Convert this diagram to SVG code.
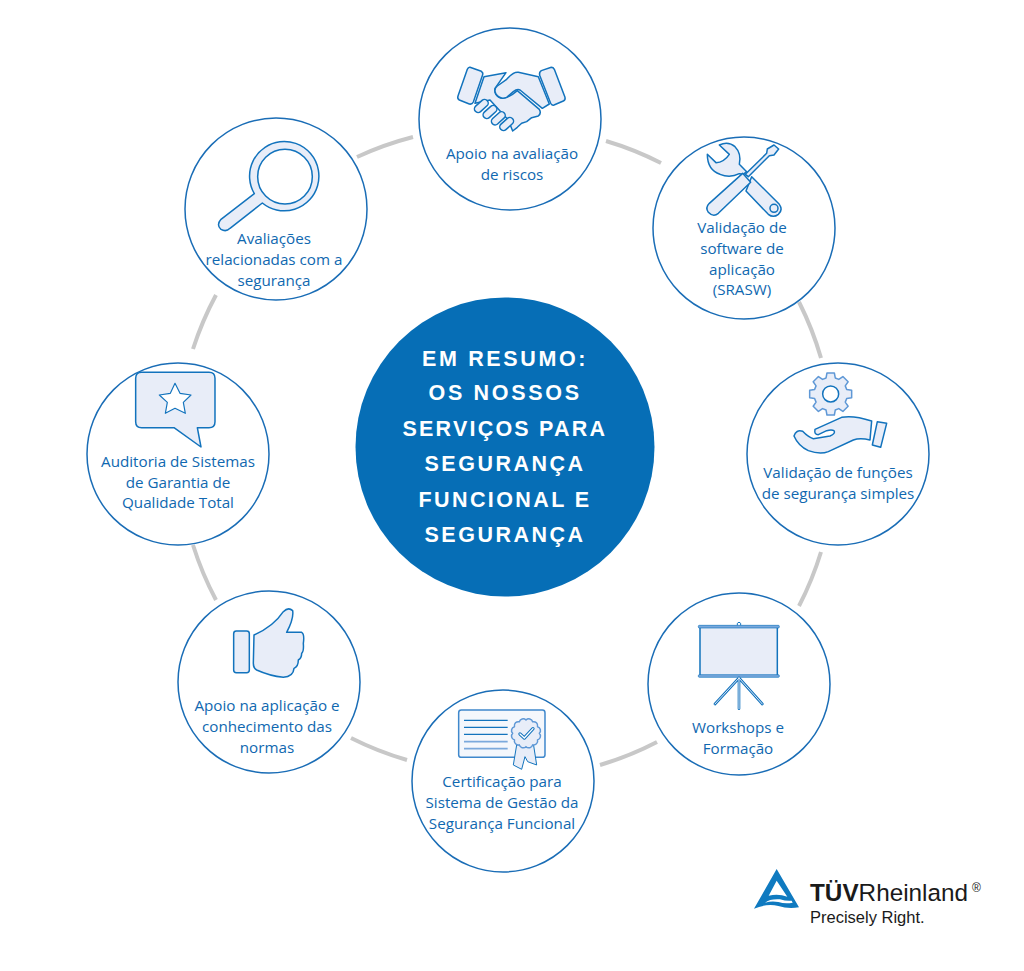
<svg xmlns="http://www.w3.org/2000/svg" width="1024" height="971" viewBox="0 0 1024 971">
<style>
.c{fill:#fff;stroke:#1a6db6;stroke-width:1.5}
.t{font-family:"Open Sans","Liberation Sans",sans-serif;font-size:15.2px;fill:#1068b0;text-anchor:middle}
.h{font-family:"Liberation Sans",Arial,sans-serif;font-weight:700;font-size:21.5px;letter-spacing:2.5px;fill:#fff;text-anchor:middle}
.i{fill:#e8edf8;stroke:#1273bd;stroke-width:4.5;stroke-linejoin:round;stroke-linecap:round}
.l{fill:#e8edf8;stroke:#5f98d6;stroke-width:4.5;stroke-linejoin:round}
.w{fill:#fff}
.a{fill:none;stroke:#c8c8c8;stroke-width:4}
.k{font-family:"Liberation Sans",Arial,sans-serif;fill:#1a1a1a}
</style>
<g id="connectors">
<path class="a" d="M606 141A325 325 0 0 1 661 163"/>
<path class="a" d="M799 302A325 325 0 0 1 821 358"/>
<path class="a" d="M821 552A325 325 0 0 1 799 606"/>
<path class="a" d="M657 742A325 325 0 0 1 600 765"/>
<path class="a" d="M407 760A325 325 0 0 1 351 738"/>
<path class="a" d="M216 600A325 325 0 0 1 193 545"/>
<path class="a" d="M193 349A325 325 0 0 1 216 295"/>
<path class="a" d="M357 157A325 325 0 0 1 413 137"/>
</g>
<g id="center">
<circle cx="505" cy="447" r="149.500" fill="#066eb6"/>
<text class="h" x="505" y="366" textLength="166">EM RESUMO:</text>
<text class="h" x="505" y="400" textLength="153">OS NOSSOS</text>
<text class="h" x="505" y="436" textLength="205">SERVIÇOS PARA</text>
<text class="h" x="505" y="471" textLength="161">SEGURANÇA</text>
<text class="h" x="505" y="507" textLength="173">FUNCIONAL E</text>
<text class="h" x="505" y="542" textLength="161">SEGURANÇA</text>
</g>
<g id="risks">
<circle class="c" cx="510" cy="119" r="91"/>
<g transform="translate(410 20) scale(.3333)">
<path class="i" d="M180 142L214 154Q220 158 218 164L190 246Q186 254 178 252L148 240Q141 236 144 228L172 148Q175 141 180 142Z"/>
<path class="i" d="M394 152L424 142Q430 142 433 148L465 232Q467 240 460 243L432 255Q425 257 422 250L389 166Q387 156 394 152Z"/>
<path class="i" d="M222 170L288 158L255 205Q252 225 270 233Q290 240 322 212L388 268Q395 280 385 288L365 293L350 305L335 310L322 322L308 333L295 300L240 240L195 250Z"/>
<rect class="i" x="190" y="247" width="48" height="22" rx="11" transform="rotate(-42 214 258)"/>
<rect class="i" x="216" y="265" width="48" height="22" rx="11" transform="rotate(-42 240 276)"/>
<rect class="i" x="241" y="284" width="48" height="22" rx="11" transform="rotate(-42 265 295)"/>
<rect class="i" x="266" y="301" width="48" height="22" rx="11" transform="rotate(-42 290 312)"/>
<path class="i" d="M290 178Q310 155 325 157L385 170L418 252L397 265L330 210Q322 205 310 215L290 232Q270 240 258 222Q250 208 262 198Z"/>
</g>
<text class="t" x="512" y="159">Apoio na avaliação</text>
<text class="t" x="512" y="180">de riscos</text>
</g>
<g id="software">
<circle class="c" cx="744" cy="228" r="91"/>
<g transform="translate(650 125) scale(.3333)">
<path class="i" d="M172 88L198 113Q222 112 238 88L208 60Q235 48 255 65Q275 85 268 118L290 140L280 148L268 146Q240 160 210 148Q172 135 172 88Z"/>
<path class="i" d="M305 155L388 238Q400 255 385 268Q370 280 355 268L288 198Z"/>
<circle class="i" cx="372" cy="250" r="12"/>
<path class="i" d="M286 148L350 85L352 72L372 60L386 72L372 90L358 92L295 155Z"/>
<path class="i" d="M278 145L302 172L205 265Q190 278 175 262Q165 248 178 235Z"/>
</g>
<text class="t" x="742" y="233">Validação de</text>
<text class="t" x="742" y="254">software de</text>
<text class="t" x="742" y="275">aplicação</text>
<text class="t" x="742" y="295">(SRASW)</text>
</g>
<g id="simple-functions">
<circle class="c" cx="838" cy="454" r="91"/>
<g transform="translate(770 360) scale(.3333)">
<g transform="translate(182 102)">
<path class="l" d="M48.100-13.800L63-11.100L63 11.100L48.100 13.800L43.800 24.300L52.400 36.700L36.700 52.400L24.300 43.800L13.800 48.100L11.100 63L-11.100 63L-13.800 48.100L-24.300 43.800L-36.700 52.400L-52.400 36.700L-43.800 24.300L-48.100 13.800L-63 11.100L-63-11.100L-48.100-13.800L-43.800-24.300L-52.400-36.700L-36.700-52.400L-24.300-43.800L-13.800-48.100L-11.100-63L11.100-63L13.800-48.100L24.300-43.800L36.700-52.400L52.400-36.700L43.800-24.300Z"/>
<circle class="i" r="24" style="fill:#fff"/>
</g>
<path class="i" d="M72 228Q78 208 98 214Q115 232 130 236L180 228Q198 220 192 212Q185 208 170 212L145 224Q132 224 135 208L215 172Q250 165 305 183L300 240Q270 232 250 240L175 275Q150 285 115 272Q85 258 72 228Z"/>
<path class="i" d="M322 185L350 190L332 262L307 255Z"/>
</g>
<text class="t" x="838" y="478">Validação de funções</text>
<text class="t" x="838" y="499">de segurança simples</text>
</g>
<g id="workshops">
<circle class="c" cx="739" cy="684" r="91"/>
<g transform="translate(680 610) scale(.3333)">
<path d="M172 46V40Q177 33 182 40V46" fill="none" stroke="#1273bd" stroke-width="3"/>
<rect class="i" x="60" y="50" width="232" height="148"/>
<rect x="55" y="46" width="243" height="8" rx="3" fill="#79a8dc" stroke="#1273bd" stroke-width="2"/>
<rect x="55" y="194" width="243" height="8" rx="3" fill="#79a8dc" stroke="#1273bd" stroke-width="2"/>
<path d="M177 204V296M177 204L105 282M177 204L247 282" fill="none" stroke="#1273bd" stroke-width="8" stroke-linecap="round"/>
<path d="M177 204V296M177 204L105 282M177 204L247 282" fill="none" stroke="#dfe8f6" stroke-width="3" stroke-linecap="round"/>
</g>
<text class="t" x="738" y="733">Workshops e</text>
<text class="t" x="738" y="754">Formação</text>
</g>
<g id="certification">
<circle class="c" cx="503" cy="781" r="91"/>
<g transform="translate(445 700) scale(.3333)">
<rect x="41" y="30" width="259" height="142" rx="8" fill="#f4f7fc" stroke="#3f88cc" stroke-width="4.500"/>
<path d="M57 61H188M57 82H188M57 103H188" stroke="#1273bd" stroke-width="4" fill="none"/>
<path d="M57 125H188M57 146H188" stroke="#7ba9dc" stroke-width="5" fill="none"/>
<path class="l" d="M215 135L205 195L230 208L240 170L248 185L275 195L265 130Z" style="stroke:#1273bd;stroke-width:3"/>
<path class="l" d="M283 100A12 12 0 0 1 277.600 120A12 12 0 0 1 263 134.600A12 12 0 0 1 243 140A12 12 0 0 1 223 134.600A12 12 0 0 1 208.400 120A12 12 0 0 1 203 100A12 12 0 0 1 208.400 80A12 12 0 0 1 223 65.400A12 12 0 0 1 243 60A12 12 0 0 1 263 65.400A12 12 0 0 1 277.600 80A12 12 0 0 1 283 100Z"/>
<path d="M225 102L238 114L264 86" fill="none" stroke="#1273bd" stroke-width="10" stroke-linejoin="round" stroke-linecap="round"/>
<path d="M225 102L238 114L264 86" fill="none" stroke="#fff" stroke-width="4" stroke-linejoin="round" stroke-linecap="round"/>
</g>
<text class="t" x="502" y="787">Certificação para</text>
<text class="t" x="502" y="808">Sistema de Gestão da</text>
<text class="t" x="502" y="829">Segurança Funcional</text>
</g>
<g id="standards">
<circle class="c" cx="269" cy="682" r="91"/>
<g transform="translate(220 600) scale(.3333)">
<rect class="i" x="41" y="93" width="47" height="125" rx="8"/>
<path class="i" d="M102 105Q160 80 190 35Q205 20 218 32Q222 55 200 97L245 97Q254 102 250 130Q252 155 245 160Q245 175 235 180Q235 200 222 205Q220 230 190 232Q150 228 110 210Q100 205 100 190Z"/>
</g>
<text class="t" x="267" y="711">Apoio na aplicação e</text>
<text class="t" x="267" y="732">conhecimento das</text>
<text class="t" x="267" y="753">normas</text>
</g>
<g id="audit">
<circle class="c" cx="178" cy="454" r="91"/>
<g transform="translate(125 365) scale(.3333)">
<path class="i" d="M50 22L252 22Q270 22 270 40L270 170Q270 188 252 188L217 188L228 246L147 188L50 188Q32 188 32 170L32 40Q32 22 50 22Z"/>
<path class="i" style="fill:#fff;stroke-width:3.500" d="M150 55L165 85L198 90L175 112L181 145L150 130L121 145L127 112L103 90L136 85Z"/>
</g>
<text class="t" x="178" y="467">Auditoria de Sistemas</text>
<text class="t" x="178" y="488">de Garantia de</text>
<text class="t" x="178" y="508">Qualidade Total</text>
</g>
<g id="safety-assessments">
<circle class="c" cx="276" cy="209" r="91"/>
<g transform="translate(210 135) scale(.3333)">
<path class="i" d="M133 176L33 253Q18 270 33 283Q48 292 60 280L157 204A104 104 0 1 0 133 176Z"/>
<circle class="i" cx="225" cy="125" r="82" style="fill:#fff"/>
</g>
<text class="t" x="274" y="244">Avaliações</text>
<text class="t" x="274" y="265">relacionadas com a</text>
<text class="t" x="274" y="286">segurança</text>
</g>
<g id="logo">
<g transform="translate(745 860) scale(.3333)">
<path fill="#0f7ac0" d="M95 27L162 142Q130 148 100 138Q65 130 27 146Z"/>
<path class="w" d="M95 62L127 110Q100 100 71 107Z"/>
<path class="w" d="M60 128Q75 116 105 118Q125 124 140 122L143 128Q120 132 100 126Q80 122 60 128Z"/>
</g>
<text class="k" x="810" y="901" font-size="24.300" font-weight="700">TÜV<tspan font-weight="400">Rheinland</tspan></text>
<text class="k" x="972" y="892" font-size="12">®</text>
<text class="k" x="810" y="923" font-size="16.500">Precisely Right.</text>
</g>
</svg>
